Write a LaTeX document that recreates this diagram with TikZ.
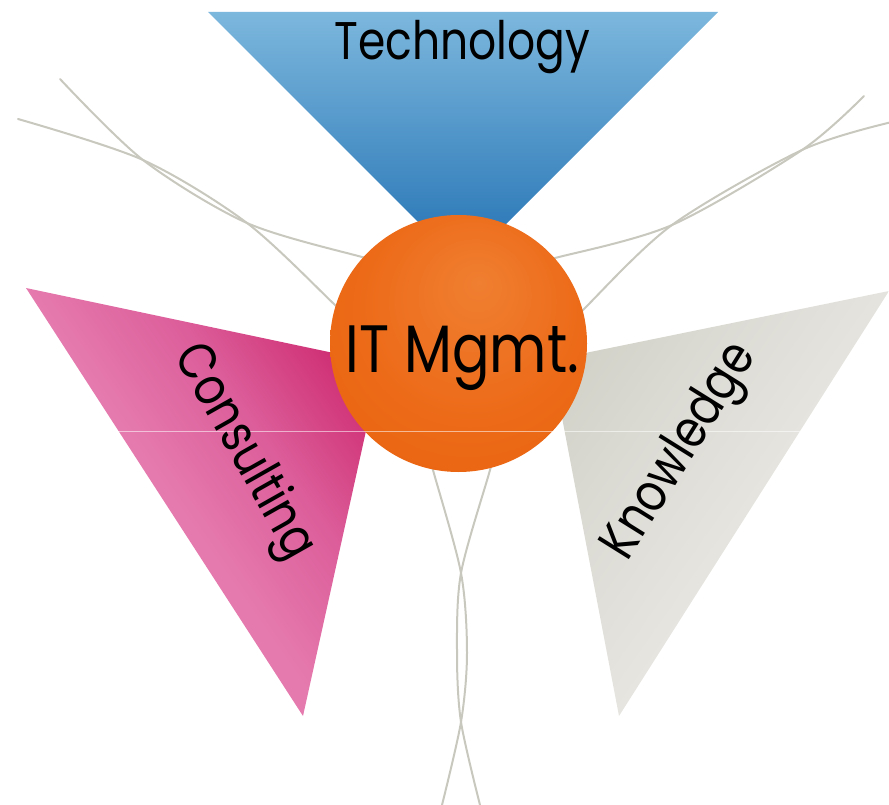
\documentclass[tikz,border=0pt]{standalone}
\usepackage{fontspec}
\setmainfont{Poppins}
\definecolor{blueT}{HTML}{7CB7DD}
\definecolor{blueM}{HTML}{5B9BCC}
\definecolor{blueB}{HTML}{2271B3}
\definecolor{pinkA}{HTML}{E67EB0}
\definecolor{pinkB}{HTML}{E57AAE}
\definecolor{pinkC}{HTML}{DC5E9A}
\definecolor{pinkE}{HTML}{CF2F74}
\definecolor{pinkF}{HTML}{CA1C66}
\definecolor{grayA}{HTML}{CCCBC0}
\definecolor{grayB}{HTML}{CECDC2}
\definecolor{grayC}{HTML}{DAD9D2}
\definecolor{grayE}{HTML}{E6E5E0}
\definecolor{grayF}{HTML}{E9E8E3}
\definecolor{orL}{HTML}{F07F31}
\definecolor{orM}{HTML}{EC6A18}
\definecolor{orD}{HTML}{E85D06}
\definecolor{wire}{HTML}{C9C8BE}
\pgfdeclareradialshading{itball}{\pgfpoint{4bp}{12bp}}{color(0bp)=(orL); color(22bp)=(orM); color(50bp)=(orD)}
\pgfdeclarehorizontalshading{pinkshade}{100bp}{color(0bp)=(pinkA); color(47bp)=(pinkB); color(61bp)=(pinkC); color(75bp)=(pinkE); color(86bp)=(pinkF); color(100bp)=(pinkF)}
\pgfdeclarehorizontalshading{grayshade}{100bp}{color(0bp)=(grayA); color(14bp)=(grayB); color(35bp)=(grayC); color(55bp)=(grayE); color(100bp)=(grayF)}
\begin{document}
\begin{tikzpicture}[x=1pt,y=-1pt,
  wireline/.style={draw=wire, line width=2pt, line cap=round},
  lbl/.style={font=\fontsize{53}{60}\selectfont, inner sep=0pt, text=black},
  biglbl/.style={font=\fontsize{67}{75}\selectfont, inner sep=0pt, text=black}]
\useasboundingbox (0,0) rectangle (889,805);
% triangle corners
\coordinate (t1) at (208,12);
\coordinate (t2) at (718,12);
\coordinate (t3) at (463,267);
\coordinate (p1) at (26,288);
\coordinate (p2) at (381,363);
\coordinate (p3) at (303,716);
\coordinate (g1) at (889,291);
\coordinate (g2) at (551,360);
\coordinate (g3) at (619,716);
% triangles
\shade[top color=blueT, middle color=blueM, bottom color=blueB] (t1) -- (t2) -- (t3) -- cycle;
\shade[shading=pinkshade, shading angle=35] (p1) -- (p2) -- (p3) -- cycle;
\shade[shading=grayshade, shading angle=-35] (g1) -- (g2) -- (g3) -- cycle;
% wires
\draw[wireline] plot[smooth] coordinates {(18,119) (143,160) (247,223) (335,305) (357,327)};
\draw[wireline] plot[smooth] coordinates {(60,79) (143,160) (247,223) (362,257) (392,263)};
\draw[wireline] plot[smooth] coordinates {(864,96) (802,150) (672,225) (555,258) (525,264)};
\draw[wireline] plot[smooth] coordinates {(892,122) (802,150) (672,225) (583,310) (563,332)};
\draw[wireline] plot[smooth] coordinates {(425,440) (433,470) (461,573) (467,653) (461,722) (442,805)};
\draw[wireline] plot[smooth] coordinates {(497,440) (490,470) (461,573) (457,653) (461,722) (480,805)};
% centre ball
\node[circle, shade, shading=itball, minimum size=257pt, inner sep=0pt] (core) at (458.5,343.5) {};
% faint white rule
\coordinate (r1) at (118,431);
\coordinate (r2) at (805,431);
\draw[white, opacity=0.55, line width=0.8pt] (r1) -- (r2);
% labels
\node[lbl, anchor=base, xscale=0.83] (tech) at (462.5,60) {Technology};
\node[biglbl, anchor=base, xscale=0.83] (itm) at (462.5,372) {IT Mgmt.};
\node[lbl, anchor=base, rotate=-60.5, xscale=0.83] (cons) at (232,459) {Consulting};
\node[lbl, anchor=base, rotate=58, xscale=0.83] (know) at (692,459) {Knowledge};
\end{tikzpicture}
\end{document}
